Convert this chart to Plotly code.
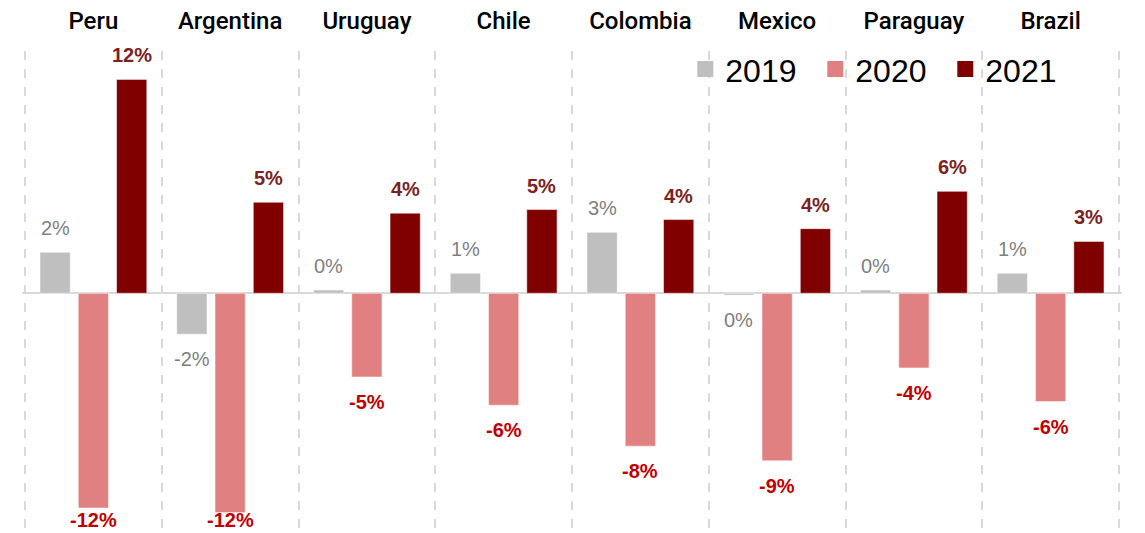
import plotly.graph_objects as go

countries = ["Peru", "Argentina", "Uruguay", "Chile", "Colombia", "Mexico", "Paraguay", "Brazil"]
years = ["2019", "2020", "2021"]
growth_2019 = [2.25, -2.25, 0.18, 1.1, 3.35, -0.1, 0.18, 1.1]
growth_2020 = [-11.8, -12.05, -4.6, -6.15, -8.4, -9.2, -4.1, -5.95]
growth_2021 = [11.75, 5.0, 4.4, 4.6, 4.05, 3.55, 5.6, 2.85]
series = [growth_2019, growth_2020, growth_2021]

bar_colors = ["#BFBFBF", "#E08080", "#800000"]
label_colors = ["#7F7F7F", "#C00000", "#7B2222"]
label_weights = ["normal", "bold", "bold"]

FONT = "Liberation Sans"
TITLE_FONT = "Roboto"
BARGAP = 0.16
BARGROUPGAP = 0.21
Y_MIN, Y_MAX = -13.17, 13.31
X_PAD = 0.022

xpos = list(range(len(countries)))

fig = go.Figure()
for k, (yr, vals) in enumerate(zip(years, series)):
    fig.add_trace(go.Bar(
        x=xpos, y=vals, name=yr, marker_color=bar_colors[k],
        marker_line=dict(width=1, color="rgba(255,255,255,0.5)"),
        showlegend=False,
    ))
    # legend proxy with larger square symbol
    fig.add_trace(go.Scatter(
        x=[None], y=[None], mode="markers", name=yr,
        marker=dict(symbol="square", size=16, color=bar_colors[k]),
    ))

slot = (1 - BARGAP) / len(years)
annotations = []
for k, vals in enumerate(series):
    off = (k - (len(years) - 1) / 2) * slot
    for i, v in enumerate(vals):
        txt = f"{int(round(v))}%"
        if v >= 0:
            a = dict(y=v, yanchor="bottom", yshift=11)
        elif v < Y_MIN + 2.0:
            a = dict(y=Y_MIN, yanchor="bottom", yshift=0)
        else:
            a = dict(y=v, yanchor="top", yshift=-12)
        annotations.append(dict(
            x=xpos[i] + off, xref="x", yref="y", text=txt, showarrow=False,
            font=dict(family=FONT, size=20, color=label_colors[k], weight=label_weights[k]),
            **a,
        ))

bounds = [p - 0.5 for p in xpos] + [xpos[-1] + 0.5]

fig.update_layout(
    width=1137, height=525,
    margin=dict(l=14, r=23, t=43, b=0, autoexpand=False),
    paper_bgcolor="white", plot_bgcolor="white",
    barmode="group", bargap=BARGAP, bargroupgap=BARGROUPGAP,
    annotations=annotations,
    legend=dict(orientation="h", x=0.603, xanchor="left", y=0.962, yanchor="middle",
                font=dict(family=FONT, size=32, color="black"),
                entrywidth=85,
                bgcolor="rgba(0,0,0,0)"),
    xaxis=dict(
        range=[xpos[0] - 0.5 - X_PAD, xpos[-1] + 0.5 + X_PAD], side="top",
        tickvals=xpos, ticktext=countries, ticks="",
        tickfont=dict(family=TITLE_FONT, size=24, color="black", weight=500),
        ticklabelstandoff=16, automargin=False,
        showgrid=False, zeroline=False, showline=False,
        minor=dict(tickvals=bounds, showgrid=True, griddash="dash",
                   gridcolor="#D9D9D9", gridwidth=1.5, ticks=""),
    ),
    yaxis=dict(range=[Y_MIN, Y_MAX], showticklabels=False, showgrid=False,
               zeroline=True, zerolinecolor="#D9D9D9", zerolinewidth=2,
               automargin=False),
    font=dict(family=FONT),
)

fig.write_html("out.html")
